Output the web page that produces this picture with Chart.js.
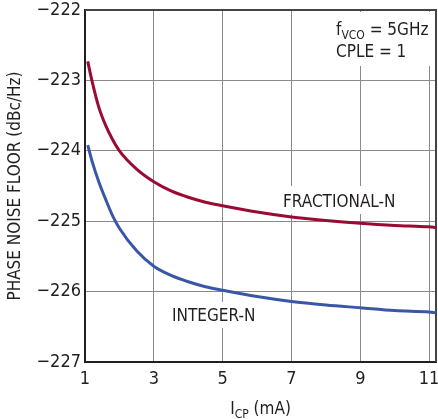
<!DOCTYPE html>
<html>
<head>
<meta charset="utf-8">
<script src="https://cdn.jsdelivr.net/npm/chart.js"></script>
<style>
    html, body { margin: 0; padding: 0; background: #fff; }
    canvas { display: block; }
</style>
</head>
<body>
<canvas id="noiseChart" width="438" height="419"></canvas>
<script>
// ############################################ Data #############################################
const icpValues = [1.08, 1.2, 1.4, 1.6, 1.8, 2.0, 2.5, 3, 3.5, 4, 4.5, 5, 6, 7, 8, 9, 10, 11, 11.2];
const fractionalN = [-222.73, -223.0, -223.38, -223.64, -223.84, -224.0, -224.26, -224.44, -224.57, -224.66,
                     -224.73, -224.78, -224.87, -224.94, -224.99, -225.03, -225.06, -225.08, -225.09];
const integerN = [-223.92, -224.14, -224.44, -224.69, -224.92, -225.1, -225.42, -225.64, -225.77, -225.86,
                  -225.93, -225.98, -226.07, -226.14, -226.19, -226.23, -226.27, -226.29, -226.3];
const xTicks = [1, 3, 5, 7, 9, 11];
const yTicks = [-227, -226, -225, -224, -223, -222];

const FONT = '"Liberation Sans Narrow", "DejaVu Sans Condensed", sans-serif';
const TEXT = '#231f20';

function toPoints(ys) {
    return icpValues.map((x, i) => ({ x: x, y: ys[i] }));
}

// ############################################ Labels plugin #############################################
const labelsPlugin = {
    id: 'labels',
    beforeDatasetsDraw(chart) {
        const ctx = chart.ctx;
        const a = chart.chartArea;
        ctx.save();

        // white boxes behind the in-plot notes
        ctx.fillStyle = '#fff';
        ctx.fillRect(332, a.top + 2, 100, 54);
        ctx.fillRect(278, 186, 124, 28);
        ctx.fillRect(167, 302, 92, 26);

        ctx.fillStyle = TEXT;
        ctx.textBaseline = 'alphabetic';
        ctx.font = '17px ' + FONT;
        ctx.fillText('FRACTIONAL-N', 283, 207);
        ctx.fillText('INTEGER-N', 172, 321);

        // fVCO = 5GHz
        let x = 336;
        ctx.fillText('f', x, 35);
        x += ctx.measureText('f').width;
        ctx.font = '12px ' + FONT;
        ctx.fillText('VCO', x, 39);
        x += ctx.measureText('VCO').width;
        ctx.font = '17px ' + FONT;
        ctx.fillText(' = 5GHz', x, 35);
        ctx.fillText('CPLE = 1', 336, 57);

        // top and right frame
        ctx.strokeStyle = '#444';
        ctx.lineWidth = 2;
        ctx.beginPath();
        ctx.moveTo(a.left, a.top);
        ctx.lineTo(a.right, a.top);
        ctx.lineTo(a.right, a.bottom);
        ctx.stroke();

        // x axis title with subscript
        ctx.font = '17px ' + FONT;
        const w1 = ctx.measureText('I').width;
        const w3 = ctx.measureText(' (mA)').width;
        ctx.font = '12px ' + FONT;
        const w2 = ctx.measureText('CP').width;
        let tx = (a.left + a.right) / 2 - (w1 + w2 + w3) / 2;
        ctx.font = '17px ' + FONT;
        ctx.fillText('I', tx, 414);
        tx += w1;
        ctx.font = '12px ' + FONT;
        ctx.fillText('CP', tx, 418);
        tx += w2;
        ctx.font = '17px ' + FONT;
        ctx.fillText(' (mA)', tx, 414);

        // y axis title
        ctx.translate(16, (a.top + a.bottom) / 2);
        ctx.rotate(-Math.PI / 2);
        ctx.textAlign = 'center';
        ctx.textBaseline = 'middle';
        ctx.fillText('PHASE NOISE FLOOR (dBc/Hz)', 0, 0);
        ctx.restore();
    }
};

// ############################################ Line Chart #############################################
function createNoiseChart() {
    const ctx = document.getElementById('noiseChart').getContext('2d');

    new Chart(ctx, {
        type: 'line',
        data: {
            datasets: [{
                label: 'FRACTIONAL-N',
                data: toPoints(fractionalN),
                borderColor: '#9a0a33',
                borderWidth: 3,
                pointRadius: 0,
                cubicInterpolationMode: 'monotone'
            }, {
                label: 'INTEGER-N',
                data: toPoints(integerN),
                borderColor: '#3a56a6',
                borderWidth: 3,
                pointRadius: 0,
                cubicInterpolationMode: 'monotone'
            }]
        },
        options: {
            responsive: false,
            animation: false,
            layout: { padding: { top: 10, right: 2, left: 0, bottom: 0 } },
            plugins: {
                legend: { display: false },
                tooltip: { enabled: false }
            },
            scales: {
                x: {
                    type: 'linear',
                    min: 1,
                    max: 11.2,
                    afterBuildTicks: s => { s.ticks = xTicks.map(v => ({ value: v })); },
                    afterFit: s => {
                        s.height = 57;
                        s.paddingLeft = 0;
                        s.paddingRight = 0;
                    },
                    grid: { color: '#8a8a8a', lineWidth: 1, drawTicks: false },
                    border: { color: TEXT, width: 2 },
                    ticks: {
                        padding: 7,
                        color: TEXT,
                        font: { family: FONT, size: 18 },
                        maxRotation: 0
                    }
                },
                y: {
                    min: -227,
                    max: -222,
                    afterBuildTicks: s => { s.ticks = yTicks.map(v => ({ value: v })); },
                    afterFit: s => {
                        s.width = 85;
                        s.paddingTop = 0;
                        s.paddingBottom = 0;
                    },
                    grid: { color: '#8a8a8a', lineWidth: 1, drawTicks: false },
                    border: { color: TEXT, width: 2 },
                    ticks: {
                        padding: 4,
                        color: TEXT,
                        font: { family: FONT, size: 18, lineHeight: 1 },
                        callback: v => '\u2212' + Math.abs(v)
                    }
                }
            }
        },
        plugins: [labelsPlugin]
    });
}

createNoiseChart();
</script>
</body>
</html>
